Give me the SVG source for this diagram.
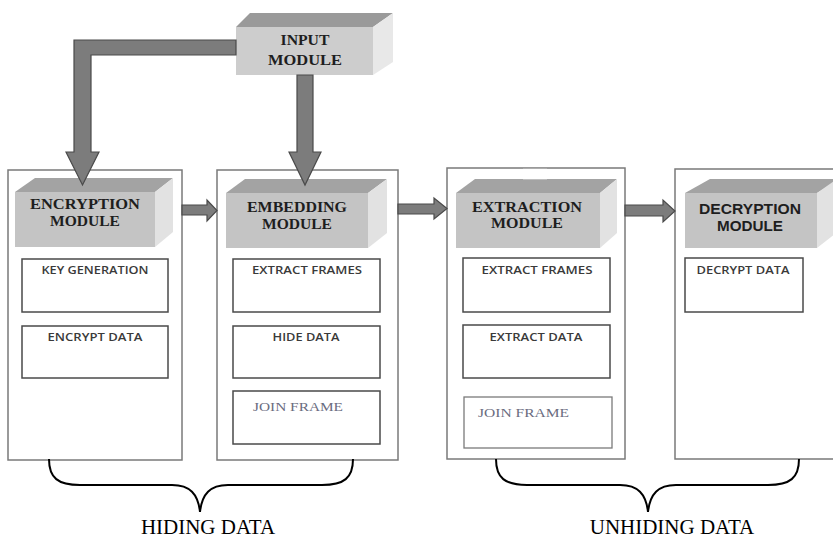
<svg xmlns="http://www.w3.org/2000/svg" width="833" height="540" viewBox="0 0 833 540">
  <style>
    .panel { fill: #ffffff; stroke: #7a7a7a; stroke-width: 1.5; }
    .front { fill: #c4c4c4; }
    .top { fill: #a3a3a3; }
    .side { fill: #e2e2e2; }
    .sub { fill: #ffffff; stroke: #4a4a4a; stroke-width: 1.5; }
    .arrow { fill: #7c7c7c; stroke: #4a4a4a; stroke-width: 1.2; stroke-linejoin: miter; }
    .brace { fill: none; stroke: #000000; stroke-width: 2; }
    .title { font-family: "Liberation Serif", "Times New Roman", serif; font-weight: bold; font-size: 15.5px; fill: #1e1e1e; text-anchor: middle; }
    .title-sans { font-family: "Liberation Sans", Arial, sans-serif; font-weight: bold; font-size: 15px; fill: #1e1e1e; text-anchor: middle; }
    .step { font-family: "Open Sans", "Liberation Sans", sans-serif; font-weight: 600; font-size: 10.5px; fill: #3a3a3a; text-anchor: middle; }
    .step-serif { font-family: "Liberation Serif", "Times New Roman", serif; font-size: 12px; fill: #6a6c80; }
    .caption { font-family: "Liberation Serif", "Times New Roman", serif; font-size: 21px; fill: #000000; text-anchor: middle; }
  </style>

  <!-- module panels -->
  <g id="encryption-module">
    <rect class="panel" x="8" y="170" width="174" height="290"/>
    <polygon class="top" points="15,192 35,178 173,178 155,192"/>
    <polygon class="side" points="155,192 173,178 173,232 155,247"/>
    <rect class="front" x="15" y="192" width="140" height="55"/>
    <text class="title" x="85" y="209" textLength="110" lengthAdjust="spacingAndGlyphs">ENCRYPTION</text>
    <text class="title" x="85" y="226" textLength="70" lengthAdjust="spacingAndGlyphs">MODULE</text>
    <g id="key-generation">
      <rect class="sub" x="22" y="259" width="146" height="53"/>
      <text class="step" x="95" y="274" textLength="107" lengthAdjust="spacingAndGlyphs">KEY GENERATION</text>
    </g>
    <g id="encrypt-data">
      <rect class="sub" x="22" y="326" width="146" height="52"/>
      <text class="step" x="95" y="341" textLength="95" lengthAdjust="spacingAndGlyphs">ENCRYPT DATA</text>
    </g>
  </g>

  <g id="embedding-module">
    <rect class="panel" x="217" y="170" width="181" height="290"/>
    <polygon class="top" points="226,193 245,179 387,179 368,193"/>
    <polygon class="side" points="368,193 387,179 387,233 368,248"/>
    <rect class="front" x="226" y="193" width="142" height="55"/>
    <text class="title" x="297" y="212" textLength="100" lengthAdjust="spacingAndGlyphs">EMBEDDING</text>
    <text class="title" x="297" y="229" textLength="70" lengthAdjust="spacingAndGlyphs">MODULE</text>
    <g id="extract-frames-1">
      <rect class="sub" x="233" y="259" width="147" height="53"/>
      <text class="step" x="307" y="274" textLength="110" lengthAdjust="spacingAndGlyphs">EXTRACT FRAMES</text>
    </g>
    <g id="hide-data">
      <rect class="sub" x="233" y="326" width="147" height="52"/>
      <text class="step" x="306" y="341" textLength="67" lengthAdjust="spacingAndGlyphs">HIDE DATA</text>
    </g>
    <g id="join-frame-1">
      <rect class="sub" x="233" y="391" width="147" height="53"/>
      <text class="step-serif" x="253" y="411" textLength="90" lengthAdjust="spacingAndGlyphs">JOIN FRAME</text>
    </g>
  </g>

  <g id="extraction-module">
    <rect class="panel" x="447" y="168" width="178" height="291"/>
    <polygon class="top" points="456,193 475,179 617,179 600,193"/>
    <polygon class="side" points="600,193 617,179 617,233 600,248"/>
    <rect class="front" x="456" y="193" width="144" height="55"/>
    <rect x="523" y="168.8" width="24" height="10.5" fill="#ffffff"/>
    <text class="title" x="527" y="212" textLength="110" lengthAdjust="spacingAndGlyphs">EXTRACTION</text>
    <text class="title" x="527" y="228" textLength="72" lengthAdjust="spacingAndGlyphs">MODULE</text>
    <g id="extract-frames-2">
      <rect class="sub" x="463" y="258" width="147" height="54"/>
      <text class="step" x="537" y="274" textLength="111" lengthAdjust="spacingAndGlyphs">EXTRACT FRAMES</text>
    </g>
    <g id="extract-data">
      <rect class="sub" x="463" y="325" width="147" height="53"/>
      <text class="step" x="536" y="341" textLength="93" lengthAdjust="spacingAndGlyphs">EXTRACT DATA</text>
    </g>
    <g id="join-frame-2">
      <rect x="464" y="397" width="148" height="51" fill="#ffffff" stroke="#7a7a7a" stroke-width="1.3"/>
      <text class="step-serif" x="478" y="417" textLength="91" lengthAdjust="spacingAndGlyphs">JOIN FRAME</text>
    </g>
  </g>

  <g id="decryption-module">
    <path class="panel" d="M840,169 H675 V459 H840"/>
    <polygon class="top" points="685,193 710,179 840,179 817,193"/>
    <polygon class="side" points="817,193 840,177 840,230 817,248"/>
    <rect class="front" x="685" y="193" width="132" height="55"/>
    <text class="title-sans" x="750" y="214" textLength="102" lengthAdjust="spacingAndGlyphs">DECRYPTION</text>
    <text class="title-sans" x="750" y="231" textLength="66" lengthAdjust="spacingAndGlyphs">MODULE</text>
    <g id="decrypt-data">
      <rect class="sub" x="685" y="258" width="118" height="54"/>
      <text class="step" x="743" y="274" textLength="93" lengthAdjust="spacingAndGlyphs">DECRYPT DATA</text>
    </g>
  </g>

  <!-- input block -->
  <g id="input-module">
    <polygon fill="#9a9a9a" points="236,27 250,13 393,13 373,27"/>
    <polygon fill="#e8e8e8" points="373,27 393,13 393,62 373,75"/>
    <rect x="236" y="27" width="137" height="48" fill="#cdcdcd"/>
    <text class="title" x="305" y="45" textLength="49" lengthAdjust="spacingAndGlyphs">INPUT</text>
    <text class="title" x="305" y="65" textLength="74" lengthAdjust="spacingAndGlyphs">MODULE</text>
  </g>

  <!-- connectors -->
  <g id="connectors">
    <polygon class="arrow" points="236,40 74,40 74,152 66,152 82.5,185 99,152 91,152 91,55 236,55"/>
    <polygon class="arrow" points="297,75 313,75 313,152 321,152 305,185 289,152 297,152"/>
    <polygon class="arrow" points="182,205 207,205 207,200 217,210.5 207,221 207,215 182,215"/>
    <polygon class="arrow" points="398,204 434,204 434,198 447,208.5 434,219 434,214 398,214"/>
    <polygon class="arrow" points="625,205 663,205 663,200 675,211 663,222 663,216 625,216"/>
  </g>

  <!-- grouping braces -->
  <g id="hiding-data">
    <path class="brace" d="M49,459 C49,478 58,485 80,485 L172,485 C190,485 198,494 200,512 C202,494 210,485 228,485 L322,485 C344,485 353,478 353,459"/>
    <text class="caption" x="208" y="534">HIDING DATA</text>
  </g>
  <g id="unhiding-data">
    <path class="brace" d="M496,459 C496,478 505,485 527,485 L620,485 C638,485 646,494 648,512 C650,494 658,485 676,485 L768,485 C790,485 799,478 799,459"/>
    <text class="caption" x="672" y="534">UNHIDING DATA</text>
  </g>
</svg>
